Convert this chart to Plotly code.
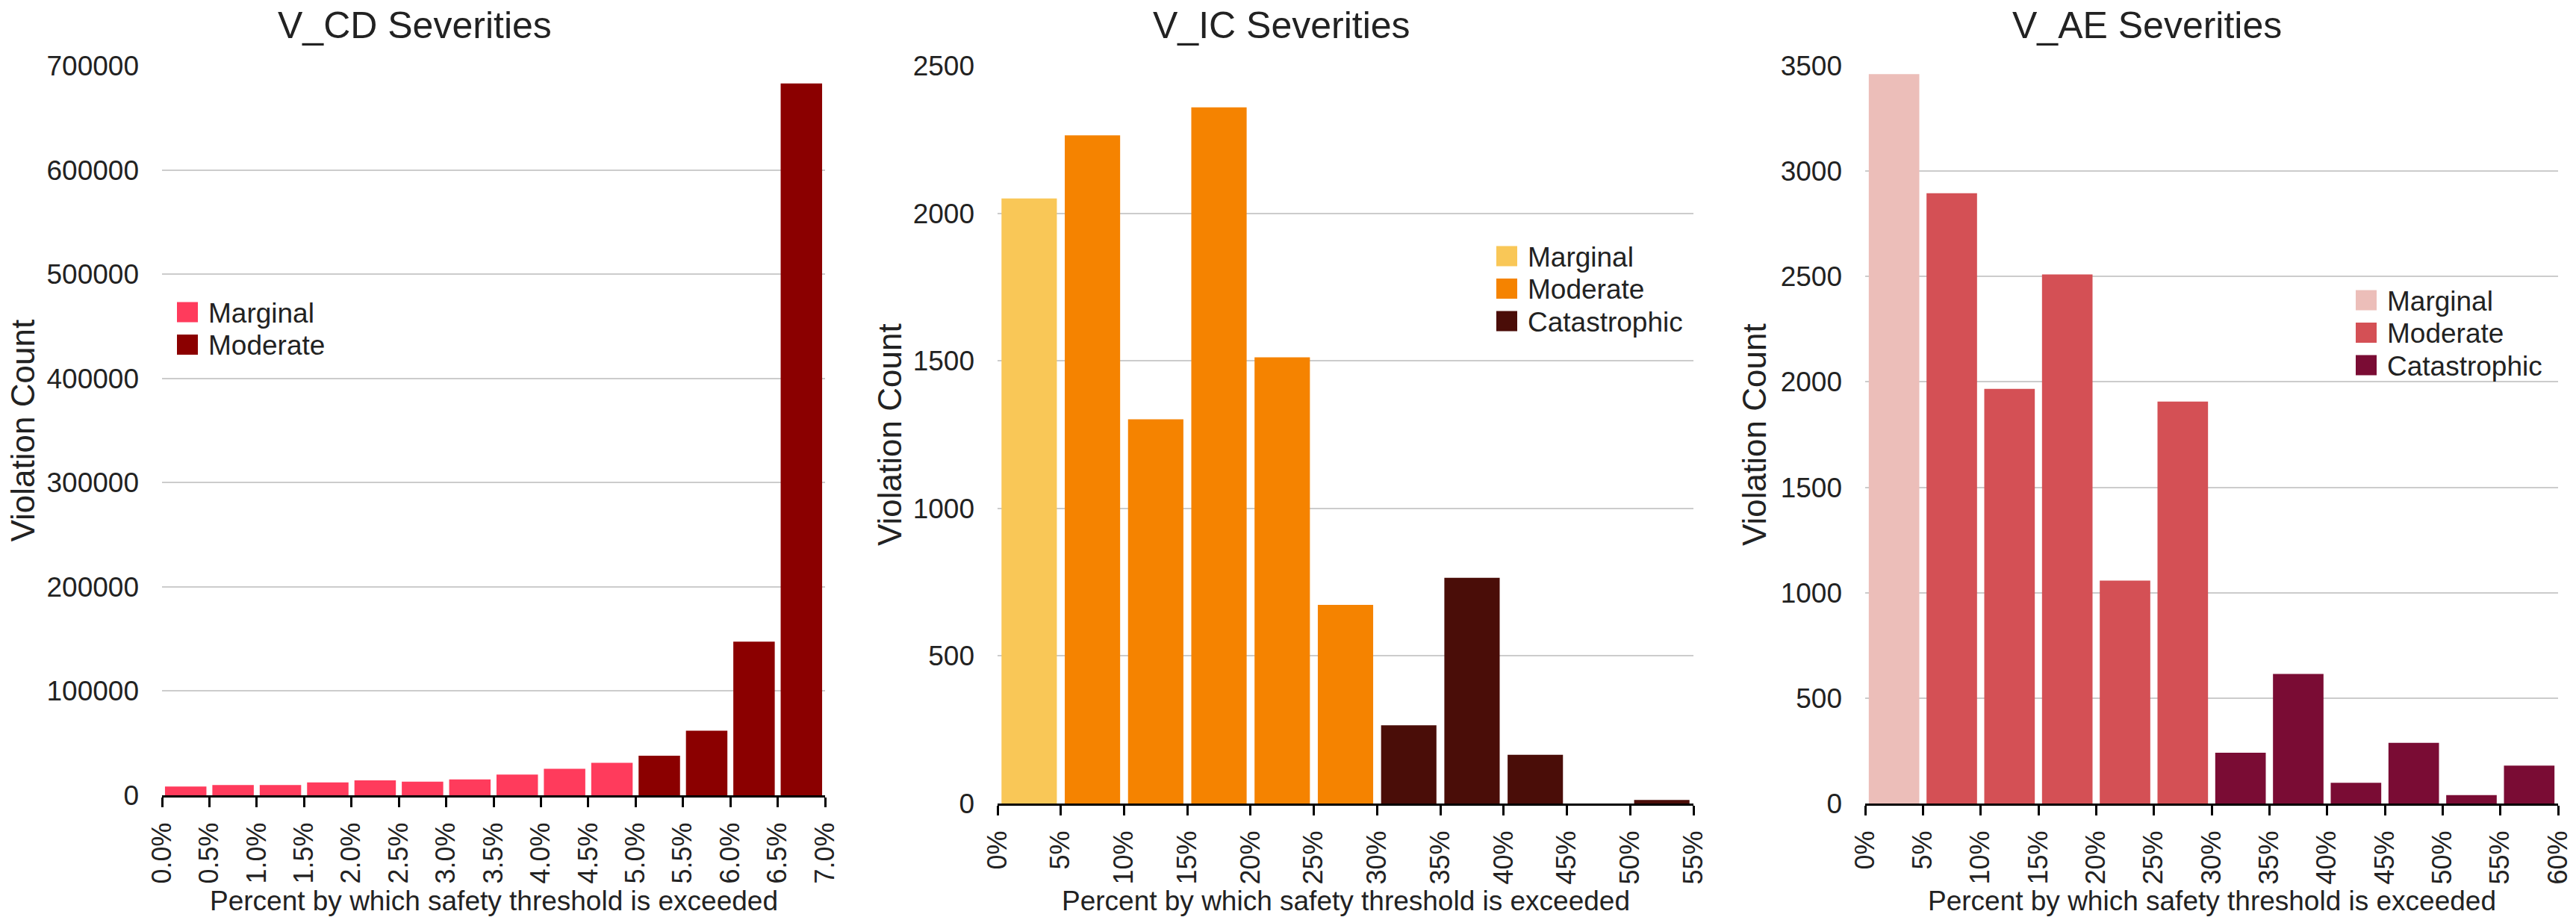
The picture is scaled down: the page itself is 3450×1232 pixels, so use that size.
import plotly.graph_objects as go

W, H = 3450, 1232
FONT = "Liberation Sans, Arial, Helvetica, sans-serif"
TXT = "#222222"

# ---------------- data ----------------
severities = ["Marginal", "Moderate", "Catastrophic"]
y_title = "Violation Count"
x_title = "Percent by which safety threshold is exceeded"

cd_title = "V_CD Severities"
cd_edges = [0.0, 0.5, 1.0, 1.5, 2.0, 2.5, 3.0, 3.5, 4.0, 4.5, 5.0, 5.5, 6.0, 6.5, 7.0]
cd_ticks = ["0.0%", "0.5%", "1.0%", "1.5%", "2.0%", "2.5%", "3.0%", "3.5%",
            "4.0%", "4.5%", "5.0%", "5.5%", "6.0%", "6.5%", "7.0%"]
cd_counts = [8500, 9800, 9800, 12400, 14300, 13000, 15300, 19900, 25400, 31100,
             38000, 62000, 147500, 683000]
cd_severity = ["Marginal", "Marginal", "Marginal", "Marginal", "Marginal",
               "Marginal", "Marginal", "Marginal", "Marginal", "Marginal",
               "Moderate", "Moderate", "Moderate", "Moderate"]
cd_yticks = [0, 100000, 200000, 300000, 400000, 500000, 600000, 700000]

ic_title = "V_IC Severities"
ic_edges = [0, 5, 10, 15, 20, 25, 30, 35, 40, 45, 50, 55]
ic_ticks = ["0%", "5%", "10%", "15%", "20%", "25%", "30%", "35%", "40%", "45%", "50%", "55%"]
ic_counts = [2050, 2264, 1302, 2359, 1512, 673, 265, 765, 165, 0, 12]
ic_severity = ["Marginal", "Moderate", "Moderate", "Moderate", "Moderate", "Moderate",
               "Catastrophic", "Catastrophic", "Catastrophic", "Catastrophic", "Catastrophic"]
ic_yticks = [0, 500, 1000, 1500, 2000, 2500]

ae_title = "V_AE Severities"
ae_edges = [0, 5, 10, 15, 20, 25, 30, 35, 40, 45, 50, 55, 60]
ae_ticks = ["0%", "5%", "10%", "15%", "20%", "25%", "30%", "35%", "40%", "45%", "50%", "55%", "60%"]
ae_counts = [3460, 2895, 1967, 2510, 1057, 1907, 241, 615, 98, 288, 40, 180]
ae_severity = ["Marginal", "Moderate", "Moderate", "Moderate", "Moderate", "Moderate",
               "Catastrophic", "Catastrophic", "Catastrophic", "Catastrophic",
               "Catastrophic", "Catastrophic"]
ae_yticks = [0, 500, 1000, 1500, 2000, 2500, 3000, 3500]

cd_colors = {"Marginal": "#ff3b5c", "Moderate": "#8b0000"}
ic_colors = {"Marginal": "#f9c757", "Moderate": "#f58300", "Catastrophic": "#4a0d08"}
ae_colors = {"Marginal": "#ecbeb9", "Moderate": "#d45055", "Catastrophic": "#7a0c34"}

# ---------------- layout geometry (pixels) ----------------
panels = [
    dict(title=cd_title, edges=cd_edges, ticks=cd_ticks, counts=cd_counts, sev=cd_severity,
         yticks=cd_yticks, colors=cd_colors,
         left=217, right=1105, top=88, bottom=1065, title_cx=555, ytitle_cx=30,
         leg_x=237, leg_y=418),
    dict(title=ic_title, edges=ic_edges, ticks=ic_ticks, counts=ic_counts, sev=ic_severity,
         yticks=ic_yticks, colors=ic_colors,
         left=1336, right=2268, top=88, bottom=1076, title_cx=1716, ytitle_cx=1191,
         leg_x=2004, leg_y=343),
    dict(title=ae_title, edges=ae_edges, ticks=ae_ticks, counts=ae_counts, sev=ae_severity,
         yticks=ae_yticks, colors=ae_colors,
         left=2498, right=3426, top=88, bottom=1076, title_cx=2875, ytitle_cx=2349,
         leg_x=3155, leg_y=402),
]


def px(xv):
    return xv / W


def py(yv):
    return 1 - yv / H


fig = go.Figure()
annotations = []
shapes = []
layout = {}

for i, p in enumerate(panels, start=1):
    xa = "x" if i == 1 else f"x{i}"
    ya = "y" if i == 1 else f"y{i}"
    edges = p["edges"]
    centers = [(edges[k] + edges[k + 1]) / 2 for k in range(len(edges) - 1)]
    binw = edges[1] - edges[0]

    for sev in severities:
        if sev not in p["colors"]:
            continue
        xs = [c for c, s in zip(centers, p["sev"]) if s == sev]
        ys = [v for v, s in zip(p["counts"], p["sev"]) if s == sev]
        fig.add_trace(go.Bar(
            x=xs, y=ys, width=binw * 0.875, name=sev,
            marker=dict(color=p["colors"][sev], line=dict(width=0)),
            xaxis=xa, yaxis=ya, showlegend=False,
        ))

    layout["xaxis" if i == 1 else f"xaxis{i}"] = dict(
        domain=[px(p["left"]), px(p["right"])],
        range=[edges[0], edges[-1]],
        tickmode="array", tickvals=edges, ticktext=p["ticks"],
        tickangle=-90, tickfont=dict(size=36, color=TXT, family=FONT),
        showline=True, linecolor="black", linewidth=3,
        ticks="outside", ticklen=13, tickwidth=3, tickcolor="black",
        showgrid=False, zeroline=False, anchor=ya, fixedrange=True,
        ticklabelstandoff=6, automargin=False,
    )
    layout["yaxis" if i == 1 else f"yaxis{i}"] = dict(
        domain=[py(p["bottom"]), py(p["top"])],
        range=[0, p["yticks"][-1]],
        tickmode="array", tickvals=p["yticks"],
        ticktext=[str(t) for t in p["yticks"]],
        tickfont=dict(size=37, color=TXT, family=FONT),
        showgrid=True, gridcolor="#cccccc", gridwidth=2,
        zeroline=False, showline=False, ticks="",
        anchor=xa, fixedrange=True, ticklabelstandoff=30, automargin=False,
    )

    # panel title
    annotations.append(dict(
        text=p["title"], x=px(p["title_cx"]), y=py(34), xref="paper", yref="paper",
        xanchor="center", yanchor="middle", showarrow=False,
        font=dict(size=50, color=TXT, family=FONT)))
    # x axis title
    annotations.append(dict(
        text=x_title, x=px((p["left"] + p["right"]) / 2), y=py(1206),
        xref="paper", yref="paper", xanchor="center", yanchor="middle", showarrow=False,
        font=dict(size=37, color=TXT, family=FONT)))
    # y axis title
    annotations.append(dict(
        text=y_title, x=px(p["ytitle_cx"]), y=py((p["top"] + p["bottom"]) / 2),
        xref="paper", yref="paper", xanchor="center", yanchor="middle", showarrow=False,
        textangle=-90, font=dict(size=44, color=TXT, family=FONT)))

    # legend (swatches + labels)
    row = 0
    for sev in severities:
        if sev not in p["colors"]:
            continue
        cy = p["leg_y"] + row * 43.5
        shapes.append(dict(
            type="rect", xref="paper", yref="paper",
            x0=px(p["leg_x"]), x1=px(p["leg_x"] + 28),
            y0=py(cy - 13.5), y1=py(cy + 13.5),
            fillcolor=p["colors"][sev], line=dict(width=0)))
        annotations.append(dict(
            text=sev, x=px(p["leg_x"] + 40), y=py(cy + 1), xref="paper", yref="paper",
            xanchor="left", yanchor="middle", showarrow=False,
            font=dict(size=37, color=TXT, family=FONT)))
        row += 1

fig.update_layout(
    width=W, height=H,
    margin=dict(l=0, r=0, t=0, b=0, pad=0, autoexpand=False),
    paper_bgcolor="white", plot_bgcolor="white",
    font=dict(family=FONT, color=TXT),
    showlegend=False,
    barmode="overlay",
    annotations=annotations,
    shapes=shapes,
    **layout,
)

fig.write_html("out.html")
